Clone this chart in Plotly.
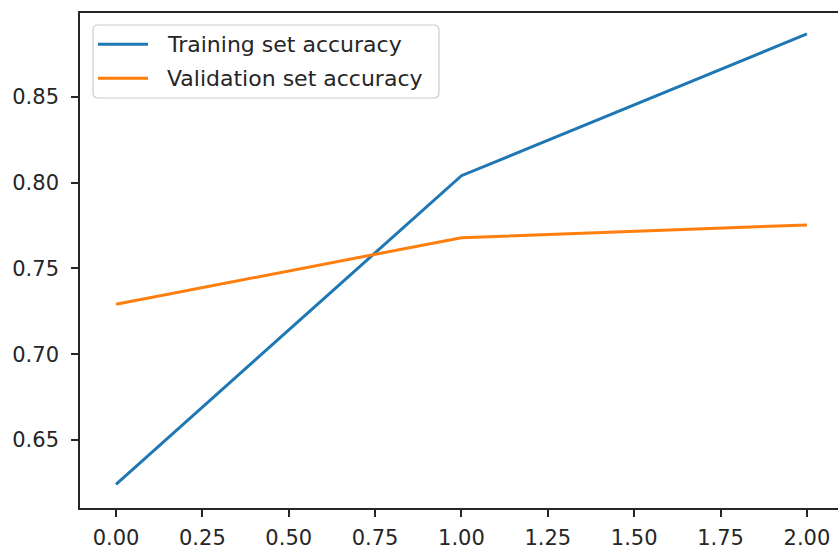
import plotly.graph_objects as go

# Accuracy per epoch
epochs = [0, 1, 2]
train_acc = [0.6242, 0.8040, 0.8866]
val_acc = [0.7291, 0.7679, 0.7753]

series_names = ["Training set accuracy", "Validation set accuracy"]
series_colors = ["#1f77b4", "#ff7f0e"]
x_ticks = [0.0, 0.25, 0.5, 0.75, 1.0, 1.25, 1.5, 1.75, 2.0]
y_ticks = [0.65, 0.70, 0.75, 0.80, 0.85]

W, H = 838, 549
left, right, top, bottom = 80, 838, 13, 508
pw, ph = right - left, bottom - top


def px(x):
    return (x - left) / pw


def py(y):
    return 1 - (y - top) / ph


fig = go.Figure()
for name, ys, color in zip(series_names, [train_acc, val_acc], series_colors):
    fig.add_trace(go.Scatter(x=epochs, y=ys, mode="lines", name=name,
                             line=dict(color=color, width=3), showlegend=False))

# Legend box with rounded corners, drawn in the upper-left of the axes
bx0, bx1, by0, by1, r = 93, 439, 25, 98, 5
rx, ry = r / pw, r / ph
X0, X1, Y0, Y1 = px(bx0), px(bx1), py(by0), py(by1)
box_path = (
    f"M{X0 + rx},{Y0} L{X1 - rx},{Y0} Q{X1},{Y0} {X1},{Y0 - ry} "
    f"L{X1},{Y1 + ry} Q{X1},{Y1} {X1 - rx},{Y1} "
    f"L{X0 + rx},{Y1} Q{X0},{Y1} {X0},{Y1 + ry} "
    f"L{X0},{Y0 - ry} Q{X0},{Y0} {X0 + rx},{Y0} Z"
)
shapes = [dict(type="path", path=box_path, xref="paper", yref="paper",
               fillcolor="rgba(255,255,255,0.8)", line=dict(color="#cccccc", width=1.2))]
annotations = []
for i, (name, color) in enumerate(zip(series_names, series_colors)):
    row_y = py(44.3 + 34 * i)
    shapes.append(dict(type="line", xref="paper", yref="paper",
                       x0=px(98), x1=px(148), y0=row_y, y1=row_y,
                       line=dict(color=color, width=3)))
    annotations.append(dict(text=name, xref="paper", yref="paper",
                            x=px(165), y=row_y, xanchor="left", yanchor="middle",
                            showarrow=False,
                            font=dict(family="DejaVu Sans", size=22, color="#262626")))

fig.update_layout(
    width=W, height=H,
    margin=dict(l=left, r=W - right, t=top, b=H - bottom, pad=0),
    paper_bgcolor="white", plot_bgcolor="white",
    font=dict(family="DejaVu Sans", size=21, color="#262626"),
    showlegend=False,
    shapes=shapes,
    annotations=annotations,
    xaxis=dict(
        range=[-0.1042, 2.09], tickvals=x_ticks,
        ticktext=[f"{v:.2f}" for v in x_ticks],
        showgrid=False, zeroline=False,
        showline=True, linecolor="#262626", linewidth=1.6, mirror=True,
        ticks="outside", ticklen=7, tickwidth=1.6, tickcolor="#262626",
        ticklabelstandoff=3,
    ),
    yaxis=dict(
        range=[0.6104, 0.8988], tickvals=y_ticks,
        ticktext=[f"{v:.2f}" for v in y_ticks],
        showgrid=False, zeroline=False,
        showline=True, linecolor="#262626", linewidth=1.6,
        ticks="outside", ticklen=7, tickwidth=1.6, tickcolor="#262626",
        ticklabelstandoff=8,
    ),
)

fig.write_html("out.html")
